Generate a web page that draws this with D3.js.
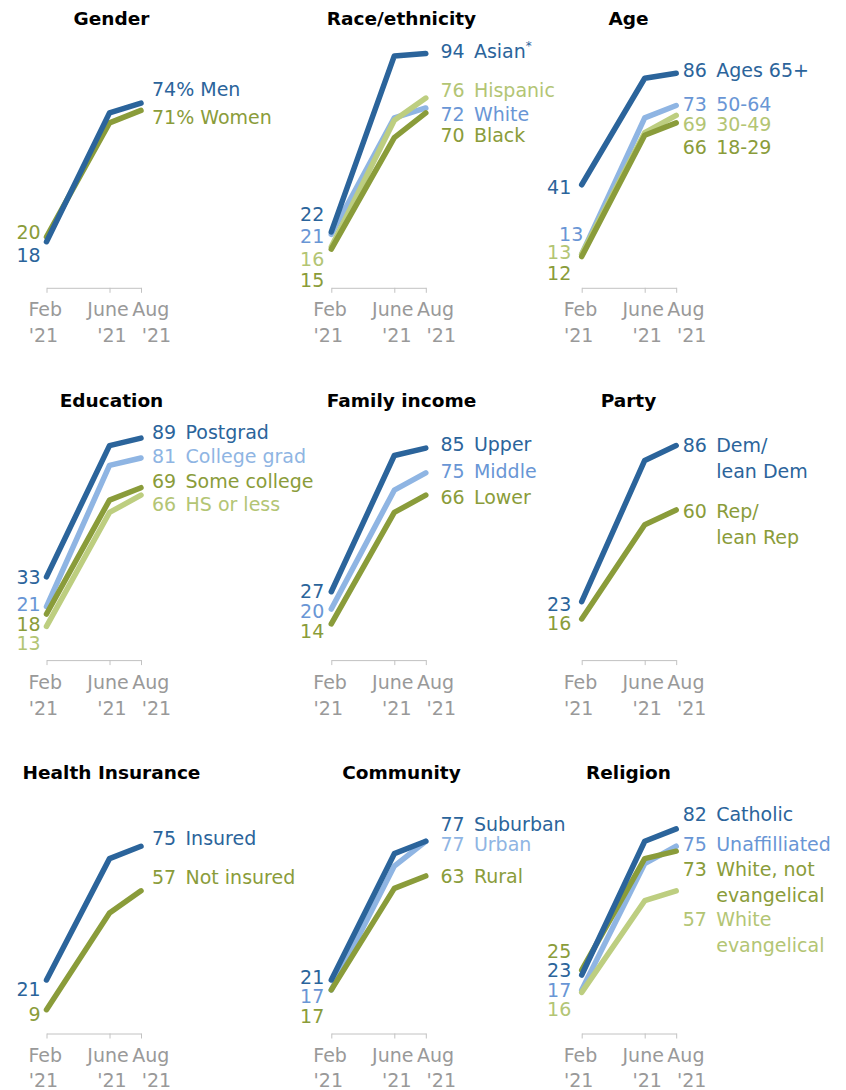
<!DOCTYPE html>
<html><head><meta charset="utf-8">
<script src="https://cdn.jsdelivr.net/npm/d3@7"></script>
<style>
body{margin:0;background:#fff}
svg{display:block}
text{font-family:"DejaVu Sans",sans-serif}
</style>
</head><body>
<svg id="chart" width="846" height="1090"></svg>
<script>
// ---------- DATA ----------
const surveyMonths = [2, 6, 8]; // Feb, June, Aug 2021
const tickLabels = [["Feb", "'21"], ["June", "'21"], ["Aug", "'21"]];
const panelTitles = ["Gender", "Race/ethnicity", "Age", "Education", "Family income", "Party", "Health Insurance", "Community", "Religion"];

const genderNames = ["Men", "Women"];
const genderValues = [[18, 70, 74], [20, 66, 71]];

const raceNames = ["Asian*", "White", "Hispanic", "Black"];
const raceValues = [[22, 93, 94], [21, 68, 72], [16, 67, 76], [15, 60, 70]];

const ageNames = ["Ages 65+", "50-64", "30-49", "18-29"];
const ageValues = [[41, 84, 86], [13, 68, 73], [13, 62, 69], [12, 61, 66]];

const educationNames = ["Postgrad", "College grad", "Some college", "HS or less"];
const educationValues = [[33, 86, 89], [21, 78, 81], [18, 64, 69], [13, 59, 66]];

const incomeNames = ["Upper", "Middle", "Lower"];
const incomeValues = [[27, 82, 85], [20, 68, 75], [14, 59, 66]];

const partyNames = [["Dem/", "lean Dem"], ["Rep/", "lean Rep"]];
const partyValues = [[23, 80, 86], [16, 54, 60]];

const insuranceNames = ["Insured", "Not insured"];
const insuranceValues = [[21, 70, 75], [9, 48, 57]];

const communityNames = ["Suburban", "Urban", "Rural"];
const communityValues = [[21, 72, 77], [17, 67, 77], [17, 58, 63]];

const religionNames = ["Catholic", "Unaffilliated", ["White, not", "evangelical"], ["White", "evangelical"]];
const religionValues = [[23, 77, 82], [17, 68, 75], [25, 70, 73], [16, 53, 57]];

// ---------- STYLE / LAYOUT ----------
const COLORS = {
  darkBlue:   {line: "#2b649b", text: "#2b649b"},
  lightBlue:  {line: "#8fb5e3", text: "#6996d5"},
  darkGreen:  {line: "#8a9c3a", text: "#8a9c3a"},
  lightGreen: {line: "#bdce80", text: "#b3c574"}
};
const toneOrder = {lightBlue: 0, lightGreen: 1, darkGreen: 2, darkBlue: 3};

const colX = [46.5, 331.3, 581.7];       // Feb position of each column
const rowY0 = [286.3, 658.6, 1032];       // y of value 0 in each row
const titleCX = [111.5, 401.5, 628.5];
const titleY = [25, 406.5, 779];
const endLabelX = [152, 440.4, 682.7];
const startLabelX = [40.6, 324.3, 571.3];
const PLOT_H = 247.7;
const PLOT_W = 94.5;

const panels = [
  {names: genderNames, values: genderValues, tones: ["darkBlue", "darkGreen"], pct: true,
   startDy: [13.6, -4.8], endDy: [-14, 7]},
  {names: raceNames, values: raceValues, tones: ["darkBlue", "lightBlue", "lightGreen", "darkGreen"],
   startDy: [-18, 2, 12.3, 31], endDy: [-2.8, 5.7, -7.7, 22.4]},
  {names: ageNames, values: ageValues, tones: ["darkBlue", "lightBlue", "lightGreen", "darkGreen"],
   startDy: [2.6, -20.4, -2, 17], startDx: [0, 12, 0, 0], endDy: [-3, -1.8, 8.3, 24.2]},
  {names: educationNames, values: educationValues, tones: ["darkBlue", "lightBlue", "darkGreen", "lightGreen"],
   startDy: [0, -2.7, 9.9, 16.8], endDy: [-5.7, -1.8, -6.8, 9.1], endTextLight: [false, true, false, false]},
  {names: incomeNames, values: incomeValues, tones: ["darkBlue", "lightBlue", "darkGreen"],
   startDy: [-0.8, 1.8, 7], endDy: [-3.9, -1.9, 2.4]},
  {names: partyNames, values: partyValues, tones: ["darkBlue", "darkGreen"],
   startDy: [2.6, 3.9], endDy: [0, 0.9]},
  {names: insuranceNames, values: insuranceValues, tones: ["darkBlue", "darkGreen"],
   startDy: [8.7, 4.3], endDy: [-7.9, -14.1]},
  {names: communityNames, values: communityValues, tones: ["darkBlue", "lightBlue", "darkGreen"],
   startDy: [-2.7, 5.8, 25.8], endDy: [-17.6, 2.7, 0], endTextLight: [false, true, false]},
  {names: religionNames, values: religionValues, tones: ["darkBlue", "lightBlue", "darkGreen", "lightGreen"],
   startDy: [-5, 0, -19.1, 16.9], endDy: [-14.9, -2.2, 17.8, 28.2]}
];

const FS = 19;
const BASE = 6.9;   // offset from visual centre to baseline
const LINE_H = 26;

const svg = d3.select("#chart");
const x = d3.scaleLinear().domain([2, 8]).range([0, PLOT_W]);
const y = d3.scaleLinear().domain([0, 100]).range([0, -PLOT_H]);
const line = d3.line().x((d, i) => x(surveyMonths[i])).y(d => y(d));

panels.forEach((p, pi) => {
  const col = pi % 3, row = Math.floor(pi / 3);
  const g = svg.append("g").attr("transform", `translate(${colX[col]},${rowY0[row]})`);

  // title
  svg.append("text")
    .attr("x", titleCX[col]).attr("y", titleY[row])
    .attr("text-anchor", "middle")
    .attr("font-weight", "bold").attr("font-size", 18.5).attr("fill", "#000")
    .text(panelTitles[pi]);

  // axis
  const ax = g.append("g").attr("transform", "translate(0,1.5)")
    .call(d3.axisBottom(x).tickValues(surveyMonths).tickSize(5).tickSizeOuter(0).tickFormat(""));
  ax.select(".domain").attr("stroke", "#c2c2c2").attr("stroke-width", 1);
  ax.selectAll(".tick line").attr("stroke", "#c2c2c2");
  const dx1 = [-1.2, -1.5, 9.7], dx2 = [-3, 2.5, 15.5];
  const y2 = row === 2 ? 54.5 : 56;
  surveyMonths.forEach((m, i) => {
    g.append("text").attr("x", x(m) + dx1[i]).attr("y", 30)
      .attr("text-anchor", "middle").attr("font-size", FS).attr("fill", "#999")
      .text(tickLabels[i][0]);
    g.append("text").attr("x", x(m) + dx2[i]).attr("y", y2)
      .attr("text-anchor", "middle").attr("font-size", FS).attr("fill", "#999")
      .text(tickLabels[i][1]);
  });

  // lines (draw lighter tones first)
  const idx = p.values.map((d, i) => i).sort((a, b) => toneOrder[p.tones[a]] - toneOrder[p.tones[b]]);
  g.selectAll("path.series").data(idx).join("path")
    .attr("class", "series")
    .attr("d", i => line(p.values[i]))
    .attr("fill", "none")
    .attr("stroke", i => COLORS[p.tones[i]].line)
    .attr("stroke-width", 5.5)
    .attr("stroke-linecap", "round")
    .attr("stroke-linejoin", "round");

  // labels
  p.values.forEach((vals, i) => {
    const tone = COLORS[p.tones[i]];
    const sdx = p.startDx ? p.startDx[i] : 0;
    svg.append("text")
      .attr("x", startLabelX[col] + sdx)
      .attr("y", rowY0[row] + y(vals[0]) + p.startDy[i] + BASE)
      .attr("text-anchor", "end").attr("font-size", FS).attr("fill", tone.text)
      .text(vals[0]);

    const endColor = (p.endTextLight && p.endTextLight[i]) ? tone.line : tone.text;
    const cy = rowY0[row] + y(vals[2]) + p.endDy[i] + BASE;
    const nm = p.names[i];
    if (p.pct) {
      svg.append("text").attr("x", endLabelX[col]).attr("y", cy)
        .attr("font-size", FS).attr("fill", endColor)
        .text(`${vals[2]}% ${nm}`);
    } else {
      svg.append("text").attr("x", endLabelX[col]).attr("y", cy)
        .attr("font-size", FS).attr("fill", endColor).text(vals[2]);
      const lines = Array.isArray(nm) ? nm : [nm];
      const t = svg.append("text").attr("x", endLabelX[col] + 33.5).attr("y", cy)
        .attr("font-size", FS).attr("fill", endColor);
      lines.forEach((ln, li) => {
        const star = ln.endsWith("*");
        t.append("tspan").attr("x", endLabelX[col] + 33.5).attr("dy", li === 0 ? 0 : LINE_H)
          .text(star ? ln.slice(0, -1) : ln);
        if (star) {
          t.append("tspan").attr("dy", -8).attr("font-size", 12).text("*");
        }
      });
    }
  });
});
</script>
</body></html>
